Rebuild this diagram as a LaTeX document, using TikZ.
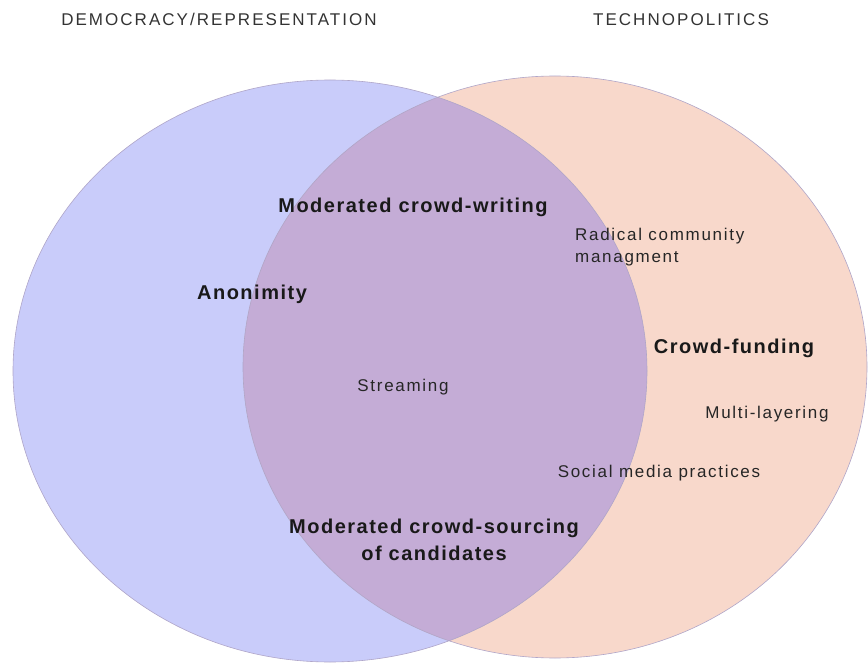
\documentclass[tikz,border=0pt]{standalone}
\usepackage{fontspec}
\setmainfont{Liberation Sans}
\newfontfamily\titlef[LetterSpace=12]{Liberation Sans}
\newfontfamily\regf[LetterSpace=10]{Liberation Sans}
\newfontfamily\boldf[LetterSpace=7.5]{Liberation Sans}
\definecolor{blueF}{RGB}{201,204,250}
\definecolor{peachF}{RGB}{248,216,203}
\definecolor{overF}{RGB}{196,172,214}
\definecolor{edgeC}{RGB}{175,165,200}
\tikzset{
  ttl/.style={inner sep=0pt, anchor=base, font=\titlef\fontsize{17}{20}\selectfont, text=black!80},
  reg/.style={inner sep=0pt, font=\regf\fontsize{17}{22}\selectfont, text=black!85},
  bld/.style={inner sep=0pt, font=\boldf\bfseries\fontsize{20}{27}\selectfont, text=black!90},
}
\begin{document}
\begin{tikzpicture}[x=1pt,y=-1pt]
\useasboundingbox (0,0) rectangle (868,663);
% sets
\path[fill=blueF] (330,371) ellipse [x radius=317pt, y radius=291pt];
\path[fill=peachF] (555,367) ellipse [x radius=312pt, y radius=291pt];
\begin{scope}
  \clip (330,371) ellipse [x radius=317pt, y radius=291pt];
  \path[fill=overF] (555,367) ellipse [x radius=312pt, y radius=291pt];
\end{scope}
\draw[edgeC, line width=0.6pt] (330,371) ellipse [x radius=317pt, y radius=291pt];
\draw[edgeC, line width=0.6pt] (555,367) ellipse [x radius=312pt, y radius=291pt];
% titles
\node[ttl] (t1) at (219,26) {DEMOCRACY/REPRESENTATION};
\node[ttl] (t2) at (681,26) {TECHNOPOLITICS};
% labels
\node[bld, anchor=base] (mcw) at (413,213) {Moderated crowd-writing};
\node[reg, anchor=base west, align=left] (rcm) at (575,263) {Radical community\\managment};
\node[bld, anchor=base] (ano) at (252,299) {Anonimity};
\node[bld, anchor=base] (cf) at (734,353) {Crowd-funding};
\node[reg, anchor=base] (str) at (403,391) {Streaming};
\node[reg, anchor=base] (ml) at (767,418) {Multi-layering};
\node[reg, anchor=base] (smp) at (659,477) {Social media practices};
\node[bld, anchor=base, align=center] (mcs) at (434,560) {Moderated crowd-sourcing\\of candidates};
\end{tikzpicture}
\end{document}
